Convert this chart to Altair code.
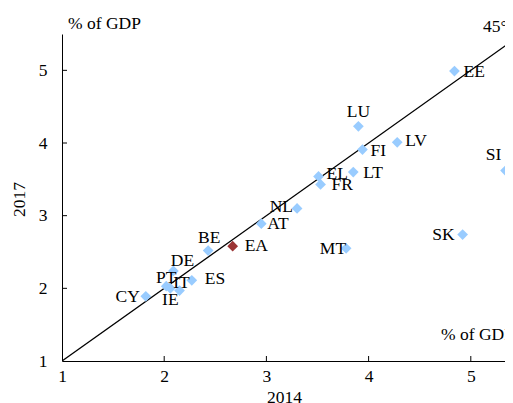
import altair as alt
import pandas as pd

# ---- data ----
countries = ["AT", "BE", "CY", "DE", "EE", "EL", "ES", "FI", "FR", "IE",
             "IT", "LT", "LU", "LV", "MT", "NL", "PT", "SI", "SK", "EA"]
x2014 = [2.95, 2.43, 1.82, 2.09, 4.84, 3.51, 2.27, 3.94, 3.53, 2.06,
         2.15, 3.85, 3.90, 4.28, 3.78, 3.30, 2.02, 5.34, 4.92, 2.67]
y2017 = [2.89, 2.52, 1.89, 2.24, 4.99, 3.54, 2.11, 3.91, 3.43, 2.00,
         1.97, 3.60, 4.23, 4.01, 2.55, 3.10, 2.03, 3.62, 2.74, 2.58]
kind = ["Country"] * 19 + ["Euro area"]
axis_values = [1, 2, 3, 4, 5]
inner_ticks = [2, 3, 4, 5]
diagonal = [1, 5.5]

# ---- label placement (align, dx, dy) ----
label_layout = {
    "EE": ("left", 9, 1), "LU": ("center", 0, -14), "LV": ("left", 8, -1),
    "FI": ("left", 8, 1), "LT": ("left", 10, 1), "EL": ("left", 8, -2),
    "FR": ("left", 11, 1), "SI": ("center", -12, -16), "NL": ("right", -4, -1),
    "AT": ("left", 6, 0), "MT": ("right", 0, 1), "SK": ("right", -8, 0),
    "BE": ("center", 1, -13), "EA": ("left", 12, 0), "DE": ("center", 9, -10),
    "PT": ("center", 0, -8), "IT": ("center", 2, -8), "ES": ("left", 13, -1),
    "CY": ("right", -6, 1), "IE": ("center", 0, 12),
}

W, H = 443, 327
PX_PER_UNIT = 102.2
FONT = "Liberation Serif"
FS = 17.5

df = pd.DataFrame({"country": countries, "x": x2014, "y": y2017, "kind": kind})
diag_df = pd.DataFrame({"x": diagonal, "y": diagonal})
yt_df = pd.DataFrame({"v": inner_ticks})
xt_df = pd.DataFrame({"v": inner_ticks})

xscale = alt.Scale(domain=[1, 1 + W / PX_PER_UNIT], nice=False, zero=False)
yscale = alt.Scale(domain=[1, 5.5], nice=False, zero=False)

xenc = alt.X("x:Q", scale=xscale,
             axis=alt.Axis(values=axis_values, title="2014", format="d",
                           titleX=222, titleY=36, titleBaseline="middle",
                           titleAlign="center", labelPadding=6))
yenc = alt.Y("y:Q", scale=yscale,
             axis=alt.Axis(values=axis_values, title="2017", format="d",
                           titleX=-43, titleY=165, titleAngle=270,
                           titleBaseline="middle", titleAlign="center",
                           labelPadding=15))

line = alt.Chart(diag_df).mark_line(color="black", strokeWidth=1.3, clip=True).encode(
    x=xenc, y=yenc)

points = alt.Chart(df).mark_point(shape="diamond", filled=True, size=115, opacity=1).encode(
    x=alt.X("x:Q", scale=xscale),
    y=alt.Y("y:Q", scale=yscale),
    color=alt.Color("kind:N", scale=alt.Scale(domain=["Country", "Euro area"],
                                              range=["#99CCFF", "#9B3535"]),
                    legend=None),
)

labels = []
for name, (align, dx, dy) in label_layout.items():
    labels.append(
        alt.Chart(df).transform_filter(alt.datum.country == name)
        .mark_text(align=align, baseline="middle", dx=dx, dy=dy,
                   font=FONT, fontSize=FS, color="black")
        .encode(x=alt.X("x:Q", scale=xscale), y=alt.Y("y:Q", scale=yscale),
                text="country:N")
    )

ytick = alt.Chart(yt_df).mark_rule(color="black", strokeWidth=1).encode(
    y=alt.Y("v:Q", scale=yscale), x=alt.value(0), x2=alt.value(5))
xtick = alt.Chart(xt_df).mark_rule(color="black", strokeWidth=1).encode(
    x=alt.X("v:Q", scale=xscale), y=alt.value(H), y2=alt.value(H - 5))

notes_df = pd.DataFrame({
    "t": ["% of GDP", "45°", "% of GDP"],
    "px": [6, 421, 379],
    "py": [-10, -7, 301],
})
notes = []
for i in range(len(notes_df)):
    notes.append(
        alt.Chart(notes_df.iloc[[i]]).mark_text(
            align="left", baseline="middle", font=FONT, fontSize=FS, color="black")
        .encode(x=alt.value(int(notes_df.px[i])), y=alt.value(int(notes_df.py[i])),
                text="t:N")
    )

chart = alt.layer(line, ytick, xtick, points, *labels, *notes).properties(
    width=W, height=H,
    autosize=alt.AutoSizeParams(type="none"),
    padding={"left": 54, "top": 26, "right": 0, "bottom": 42},
).configure_view(stroke=None).configure_axis(
    grid=False, ticks=False, tickSize=0, domainColor="black", domainWidth=1,
    labelFont=FONT, labelFontSize=FS, labelColor="black", labelFlush=False,
    labelOverlap=False,
    titleFont=FONT, titleFontSize=FS, titleColor="black", titleFontWeight="normal",
)

chart.save("out.html", embed_options={"renderer": "svg", "actions": False})
